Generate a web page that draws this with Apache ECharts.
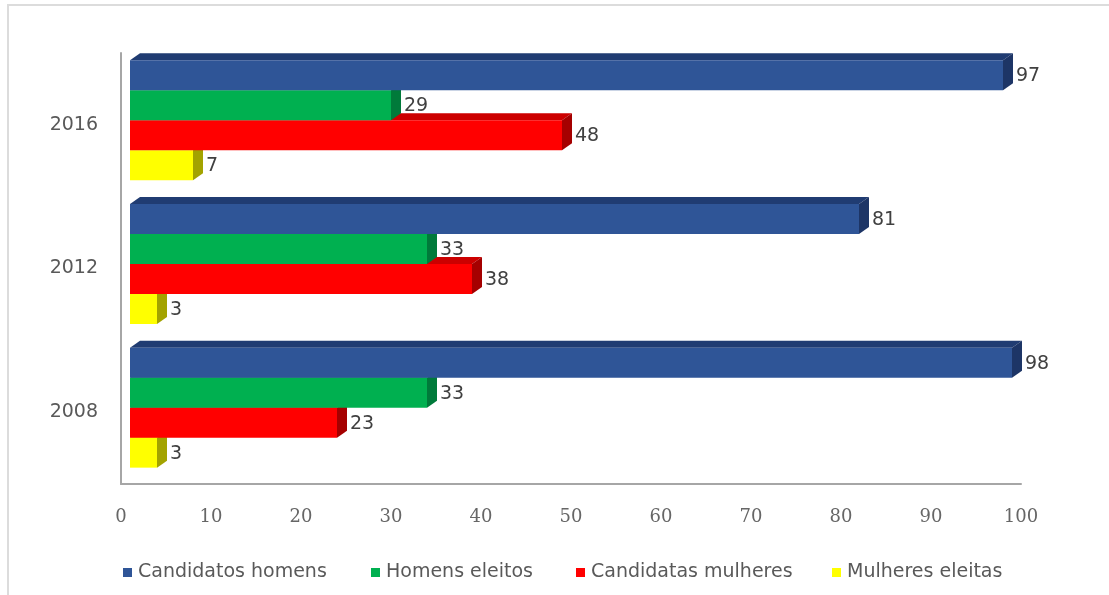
<!DOCTYPE html>
<html>
<head>
<meta charset="utf-8">
<script src="https://cdn.jsdelivr.net/npm/echarts@6/dist/echarts.min.js"></script>
<style>
html,body{margin:0;padding:0;background:#fff;}
#frame{position:absolute;left:7px;top:4px;width:1102px;height:591px;border-top:2px solid #dcdcdc;border-left:2px solid #dcdcdc;box-sizing:border-box;}
#chart{position:absolute;left:0;top:0;width:1109px;height:595px;}
</style>
</head>
<body>
<div id="frame"></div>
<div id="chart"></div>
<script>
const years = ['2008', '2012', '2016'];
const seriesNames = ['Candidatos homens', 'Homens eleitos', 'Candidatas mulheres', 'Mulheres eleitas'];
const candidatosHomens = [98, 81, 97];
const homensEleitos = [33, 33, 29];
const candidatasMulheres = [23, 38, 48];
const mulheresEleitas = [3, 3, 7];
const xTicks = [0, 10, 20, 30, 40, 50, 60, 70, 80, 90, 100];

const seriesValues = [candidatosHomens, homensEleitos, candidatasMulheres, mulheresEleitas];
const faceColors = [
  {front: '#2F5597', top: '#203C72', side: '#1D3566'},
  {front: '#00B050', top: '#00934A', side: '#007A3A'},
  {front: '#FF0000', top: '#CC0000', side: '#A50000'},
  {front: '#FFFF00', top: '#D8D800', side: '#A3A300'}
];

const SHIFT_X = 9, SHIFT_Y = -4.5, DEPTH_X = 10, DEPTH_Y = -7;

function makeRender(idx) {
  return function (params, api) {
    const v = api.value(0), c = api.value(1);
    const p0 = api.coord([0, c]);
    const p1 = api.coord([v, c]);
    const band = api.size([0, 1])[1];
    const barH = band * 30 / 143.7;
    const x0 = p0[0] + SHIFT_X, x1 = p1[0] + SHIFT_X;
    const y0 = p0[1] + SHIFT_Y - 2 * barH + idx * barH;
    const y1 = y0 + barH;
    const col = faceColors[idx];
    return {
      type: 'group',
      children: [
        {type: 'polygon', shape: {points: [[x0, y0], [x0 + DEPTH_X, y0 + DEPTH_Y], [x1 + DEPTH_X, y0 + DEPTH_Y], [x1, y0]]}, style: {fill: col.top}},
        {type: 'polygon', shape: {points: [[x1, y0], [x1 + DEPTH_X, y0 + DEPTH_Y], [x1 + DEPTH_X, y1 + DEPTH_Y], [x1, y1]]}, style: {fill: col.side}},
        {type: 'rect', shape: {x: x0, y: y0, width: x1 - x0, height: barH}, style: {fill: col.front}},
        {type: 'text', x: x1 + 13, y: (y0 + y1) / 2 + 1, style: {text: String(v), fill: '#404040', font: '19px "DejaVu Sans"', verticalAlign: 'middle', align: 'left'}}
      ]
    };
  };
}

const series = seriesNames.map((name, idx) => ({
  name: name,
  type: 'custom',
  z: 10 - idx,
  encode: {x: 0, y: 1},
  itemStyle: {color: faceColors[idx].front},
  data: seriesValues[idx].map((v, i) => [v, i]),
  renderItem: makeRender(idx)
}));

const legendLefts = [123, 371, 576, 832];
const legends = seriesNames.map((name, idx) => ({
  data: [name],
  left: legendLefts[idx],
  top: 563,
  icon: 'rect',
  itemWidth: 9,
  itemHeight: 9,
  itemGap: 0,
  padding: 0,
  textStyle: {fontFamily: 'DejaVu Sans', fontSize: 19, color: '#595959', padding: [0, 0, 0, 1]},
  selectedMode: false
}));

const chart = echarts.init(document.getElementById('chart'), null, {renderer: 'canvas'});
chart.setOption({
  backgroundColor: 'transparent',
  animation: false,
  grid: {left: 121, right: 88, top: 53, bottom: 111, containLabel: false},
  legend: legends,
  xAxis: {
    type: 'value',
    min: xTicks[0],
    max: xTicks[xTicks.length - 1],
    interval: 10,
    axisLine: {show: true, lineStyle: {color: '#a6a6a6', width: 2}},
    axisTick: {show: false},
    splitLine: {show: false},
    axisLabel: {margin: 24, color: '#666666', fontFamily: 'DejaVu Serif', fontSize: 18}
  },
  yAxis: {
    type: 'category',
    data: years,
    axisLine: {show: true, lineStyle: {color: '#a6a6a6', width: 2}},
    axisTick: {show: false},
    splitLine: {show: false},
    axisLabel: {margin: 23, color: '#595959', fontFamily: 'DejaVu Sans', fontSize: 19, padding: [10, 0, 0, 0]}
  },
  series: series
});
</script>
</body>
</html>
